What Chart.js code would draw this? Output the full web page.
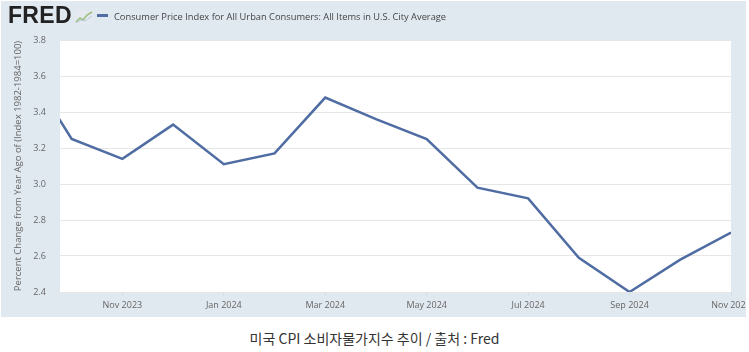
<!DOCTYPE html>
<html>
<head>
<meta charset="utf-8">
<script src="https://cdn.jsdelivr.net/npm/chart.js@4/dist/chart.umd.min.js"></script>
<style>
  body { margin: 0; background: #fff; width: 749px; height: 352px; overflow: hidden; font-family: "Open Sans", sans-serif; }
  #panel { position: absolute; left: 1px; top: 1px; width: 745px; height: 316px; background: #e1e9f0; }
  #wrap { position: absolute; left: 0; top: 0; width: 745px; height: 316px; }
  #logo { position: absolute; left: 7px; top: 1px; font: bold 23px "Liberation Sans", Arial, sans-serif; color: #222; letter-spacing: 0.3px; }
  #logo svg { vertical-align: -1px; margin-left: 3px; }
  #legend { position: absolute; left: 96px; top: 9px; font-size: 9.3px; color: #444; white-space: nowrap; }
  #legend span.mark { display: inline-block; width: 11px; height: 3px; background: #4f6ca3; vertical-align: 3px; margin-right: 6px; }
  #caption { position: absolute; left: 0; width: 749px; top: 328px; text-align: center; font: 14px "Noto Sans CJK KR", sans-serif; color: #333; }
</style>
</head>
<body>
<div id="panel">
  <div id="wrap"><canvas id="cpiChart"></canvas></div>
  <div id="logo">FRED<svg width="18" height="14" viewBox="0 0 18 14"><rect x="0" y="0" width="18" height="14" fill="#e4eaf0"/><path d="M1 12 L5 8 L8 10 L12 5 L17 2" stroke="#9bbf7a" stroke-width="1.6" fill="none"/><path d="M1 13 L6 10 L10 11 L17 6" stroke="#b9c9d9" stroke-width="1" fill="none"/></svg></div>
  <div id="legend"><span class="mark"></span>Consumer Price Index for All Urban Consumers: All Items in U.S. City Average</div>
</div>
<div id="caption">미국 CPI 소비자물가지수 추이 / 출처 : Fred</div>

<script>
const months = ['Sep 2023', 'Oct 2023', 'Nov 2023', 'Dec 2023', 'Jan 2024', 'Feb 2024', 'Mar 2024',
  'Apr 2024', 'May 2024', 'Jun 2024', 'Jul 2024', 'Aug 2024', 'Sep 2024', 'Oct 2024', 'Nov 2024'];
const cpiYoY = [3.70, 3.25, 3.14, 3.33, 3.11, 3.17, 3.48, 3.36, 3.25, 2.98, 2.92, 2.59, 2.40, 2.58, 2.73];
const xTickMonths = ['Nov 2023', 'Jan 2024', 'Mar 2024', 'May 2024', 'Jul 2024', 'Sep 2024', 'Nov 2024'];
const yTicks = [2.4, 2.6, 2.8, 3.0, 3.2, 3.4, 3.6, 3.8];

const plotBackground = {
  id: 'plotBackground',
  beforeDraw(chart) {
    const { ctx, chartArea } = chart;
    ctx.save();
    ctx.fillStyle = '#ffffff';
    ctx.fillRect(chartArea.left, chartArea.top, chartArea.right - chartArea.left, chartArea.bottom - chartArea.top);
    ctx.restore();
  }
};

function renderChart() {
  const ctx = document.getElementById('cpiChart');
  const points = cpiYoY.map((v, i) => ({ x: i, y: v }));

  new Chart(ctx, {
    type: 'line',
    data: {
      datasets: [
        {
          label: 'Consumer Price Index for All Urban Consumers: All Items in U.S. City Average',
          data: points,
          borderColor: '#4f6ca3',
          borderWidth: 2.5,
          pointRadius: 0,
          tension: 0,
          clip: 0
        }
      ]
    },
    options: {
      responsive: true,
      maintainAspectRatio: false,
      animation: false,
      layout: { padding: { left: 0, top: 39, right: 15, bottom: 0 } },
      plugins: {
        legend: { display: false },
        tooltip: { enabled: false }
      },
      scales: {
        x: {
          type: 'linear',
          bounds: 'data',
          min: 0.77,
          max: 14,
          grid: { drawOnChartArea: false, tickLength: 4, color: '#d3dde7' },
          border: { display: false },
          ticks: {
            maxRotation: 0,
            autoSkip: false,
            padding: 4,
            color: '#666',
            font: { family: 'Open Sans', size: 9 },
            callback: v => months[v] || ''
          },
          afterBuildTicks(scale) {
            scale.ticks = xTickMonths.map(m => ({ value: months.indexOf(m) }));
          },
          afterFit(scale) {
            scale.height = 25;
            scale.paddingLeft = 0;
            scale.paddingRight = 0;
          }
        },
        y: {
          min: yTicks[0],
          max: yTicks[yTicks.length - 1],
          grid: { color: '#e6e6e6', drawTicks: false },
          border: { display: false },
          ticks: {
            stepSize: 0.2,
            padding: 14,
            color: '#666',
            font: { family: 'Open Sans', size: 9 },
            callback: v => v.toFixed(1)
          },
          title: {
            display: true,
            text: 'Percent Change from Year Ago of (Index 1982-1984=100)',
            color: '#666',
            font: { family: 'Open Sans', size: 9.5 },
            padding: { top: 12, bottom: 0 }
          },
          afterFit(scale) {
            scale.width = 59;
            scale.paddingTop = 0;
            scale.paddingBottom = 0;
          }
        }
      }
    },
    plugins: [plotBackground]
  });
}

renderChart();
</script>
</body>
</html>
